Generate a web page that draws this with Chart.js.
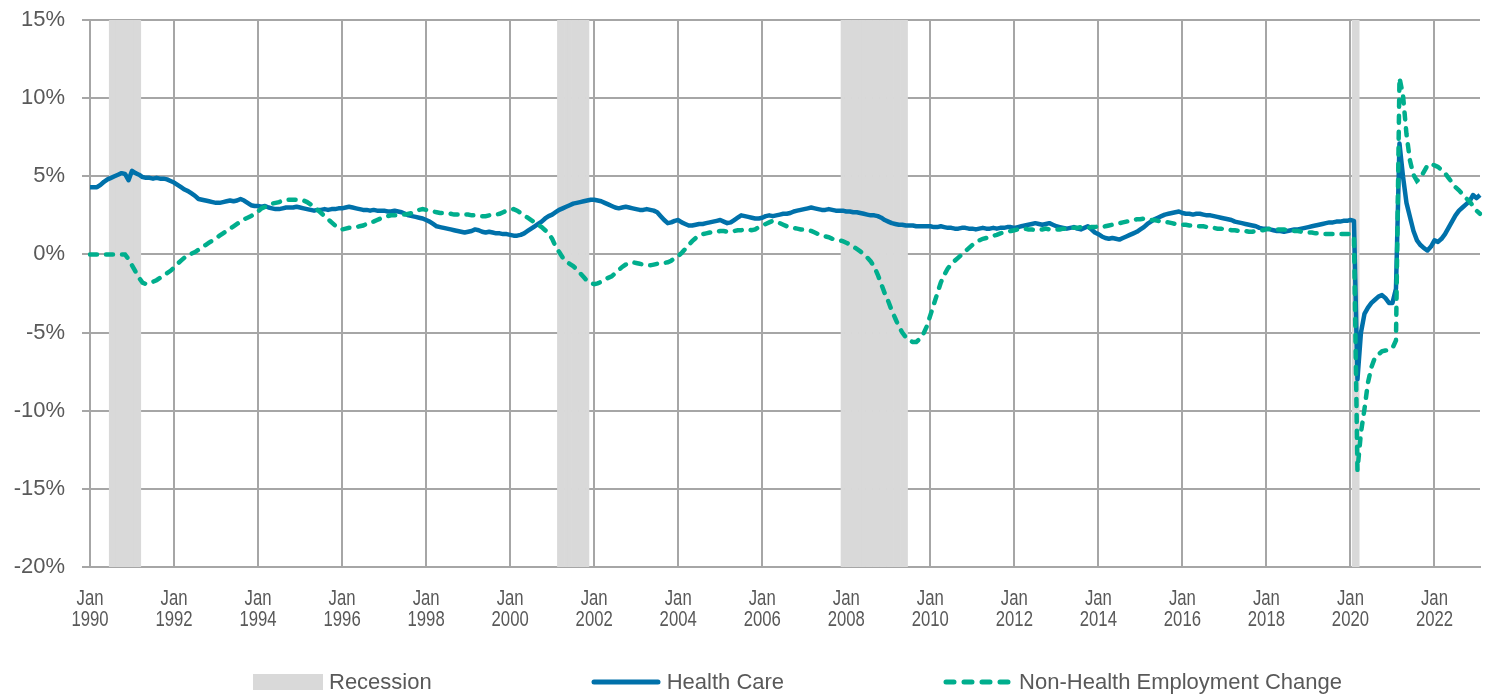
<!DOCTYPE html>
<html>
<head>
<meta charset="utf-8">
<script src="https://cdn.jsdelivr.net/npm/chart.js@4.4.1/dist/chart.umd.min.js"></script>
<style>
  html, body { margin: 0; padding: 0; background: #fff; }
  #wrap { position: relative; width: 1486px; height: 698px; overflow: hidden; }
  #legend {
    position: absolute; left: 253px; top: 670px; height: 24px;
    display: flex; align-items: center;
    font-family: "Liberation Sans", Arial, sans-serif; font-size: 22px; color: #595959;
  }
  .item { display: flex; align-items: center; margin-right: 159px; white-space: nowrap; }
  .item svg { margin-right: 6px; }
</style>
</head>
<body>
<div id="wrap">
  <canvas id="chart" width="1486" height="698"></canvas>
  <div id="legend"></div>
</div>
<script>
const monthNames = ["Jan","Feb","Mar","Apr","May","Jun","Jul","Aug","Sep","Oct","Nov","Dec"];
const firstYear = 1990;

// year-over-year % change, one row per year (Jan..Dec)
const healthCare = [
  4.3, 4.3, 4.3, 4.45, 4.65, 4.8, 4.9, 5.0, 5.1, 5.2, 5.15, 4.75,
  5.35, 5.2, 5.1, 4.95, 4.9, 4.9, 4.85, 4.9, 4.85, 4.85, 4.8, 4.7,
  4.6, 4.45, 4.3, 4.15, 4.05, 3.9, 3.75, 3.55, 3.5, 3.45, 3.4, 3.35,
  3.3, 3.3, 3.35, 3.4, 3.45, 3.4, 3.45, 3.55, 3.45, 3.3, 3.15, 3.1,
  3.1, 3.05, 3.1, 3.0, 2.95, 2.9, 2.9, 2.95, 3.0, 3.0, 3.0, 3.05,
  3.0, 2.95, 2.9, 2.85, 2.8, 2.85, 2.85, 2.9, 2.85, 2.9, 2.9, 2.95,
  2.95, 3.0, 3.05, 3.0, 2.95, 2.9, 2.85, 2.85, 2.8, 2.85, 2.8, 2.8,
  2.8, 2.75, 2.75, 2.8, 2.75, 2.7, 2.6, 2.5, 2.45, 2.4, 2.35, 2.3,
  2.2, 2.1, 1.95, 1.8, 1.75, 1.7, 1.65, 1.6, 1.55, 1.5, 1.45, 1.4,
  1.45, 1.5, 1.6, 1.55, 1.45, 1.4, 1.45, 1.4, 1.35, 1.35, 1.3, 1.3,
  1.25, 1.2, 1.2, 1.25, 1.35, 1.5, 1.65, 1.8, 1.95, 2.1, 2.3, 2.45,
  2.55, 2.7, 2.85, 2.95, 3.05, 3.15, 3.25, 3.3, 3.35, 3.4, 3.45, 3.5,
  3.5, 3.45, 3.4, 3.3, 3.2, 3.1, 3.0, 2.95, 3.0, 3.05, 3.0, 2.95,
  2.9, 2.85, 2.85, 2.9, 2.85, 2.8, 2.7, 2.45, 2.2, 2.0, 2.05, 2.15,
  2.2, 2.05, 1.95, 1.85, 1.85, 1.9, 1.95, 1.95, 2.0, 2.05, 2.1, 2.15,
  2.2, 2.1, 2.0, 2.05, 2.2, 2.35, 2.5, 2.45, 2.4, 2.35, 2.3, 2.3,
  2.35, 2.45, 2.5, 2.45, 2.5, 2.55, 2.6, 2.6, 2.65, 2.75, 2.8, 2.85,
  2.9, 2.95, 3.0, 2.95, 2.9, 2.85, 2.85, 2.9, 2.85, 2.8, 2.8, 2.8,
  2.75, 2.75, 2.7, 2.7, 2.65, 2.6, 2.55, 2.5, 2.5, 2.45, 2.35, 2.2,
  2.1, 2.0, 1.95, 1.9, 1.9, 1.85, 1.85, 1.85, 1.8, 1.8, 1.8, 1.8,
  1.8, 1.75, 1.75, 1.8, 1.75, 1.7, 1.7, 1.65, 1.65, 1.7, 1.7, 1.65,
  1.65, 1.6, 1.65, 1.7, 1.65, 1.65, 1.7, 1.65, 1.7, 1.7, 1.75, 1.75,
  1.7, 1.75, 1.8, 1.85, 1.9, 1.95, 2.0, 1.95, 1.9, 1.95, 2.0, 1.9,
  1.8, 1.75, 1.7, 1.65, 1.7, 1.75, 1.65, 1.6, 1.7, 1.8, 1.6, 1.4,
  1.3, 1.15, 1.05, 1.0, 1.05, 1.0, 0.95, 1.05, 1.15, 1.25, 1.35, 1.45,
  1.6, 1.75, 1.95, 2.1, 2.25, 2.35, 2.45, 2.55, 2.6, 2.65, 2.7, 2.75,
  2.65, 2.6, 2.6, 2.55, 2.6, 2.6, 2.55, 2.5, 2.5, 2.45, 2.4, 2.35,
  2.3, 2.25, 2.2, 2.1, 2.05, 2.0, 1.95, 1.9, 1.85, 1.8, 1.7, 1.65,
  1.65, 1.6, 1.55, 1.5, 1.5, 1.45, 1.5, 1.55, 1.6, 1.6, 1.65, 1.7,
  1.75, 1.8, 1.85, 1.9, 1.95, 2.0, 2.05, 2.05, 2.1, 2.1, 2.15, 2.15,
  2.2, 2.15, -8.0, -5.0, -3.8, -3.4, -3.1, -2.9, -2.7, -2.6, -2.8, -3.1,
  -3.1, -2.2, 7.1, 5.0, 3.3, 2.4, 1.5, 0.9, 0.6, 0.4, 0.25, 0.5,
  0.9, 0.8, 1.0, 1.3, 1.7, 2.1, 2.5, 2.8, 3.0, 3.2, 3.4, 3.8,
  3.6, 3.8
];

const nonHealth = [
  0, 0, 0, 0, 0, 0, 0, 0, 0, 0, 0, -0.3,
  -0.7, -1.1, -1.5, -1.8, -1.9, -1.85, -1.75, -1.65, -1.5, -1.35, -1.2, -1.05,
  -0.85, -0.6, -0.4, -0.2, 0.0, 0.05, 0.15, 0.3, 0.45, 0.6, 0.75, 0.9,
  1.05, 1.2, 1.35, 1.5, 1.65, 1.8, 1.95, 2.1, 2.25, 2.35, 2.45, 2.6,
  2.75, 2.95, 3.05, 3.15, 3.25, 3.3, 3.35, 3.45, 3.5, 3.5, 3.5, 3.5,
  3.5, 3.45, 3.35, 3.2, 3.0, 2.85, 2.65, 2.45, 2.25, 2.05, 1.85, 1.7,
  1.6, 1.65, 1.7, 1.7, 1.75, 1.8, 1.85, 1.95, 2.05, 2.1, 2.2, 2.3,
  2.4, 2.45, 2.5, 2.5, 2.5, 2.55, 2.55, 2.6, 2.65, 2.75, 2.85, 2.9,
  2.85, 2.8, 2.75, 2.7, 2.65, 2.65, 2.6, 2.6, 2.55, 2.55, 2.6, 2.55,
  2.55, 2.5, 2.5, 2.5, 2.45, 2.45, 2.5, 2.55, 2.55, 2.6, 2.7, 2.8,
  2.85, 2.9, 2.8, 2.65, 2.5, 2.35, 2.2, 2.05, 1.9, 1.75, 1.55, 1.35,
  1.0, 0.5, 0.15, -0.2, -0.45, -0.6, -0.75, -0.95, -1.2, -1.45, -1.7, -1.85,
  -1.9, -1.85, -1.75, -1.6, -1.5, -1.4, -1.2, -1.0, -0.8, -0.65, -0.55, -0.5,
  -0.55, -0.6, -0.65, -0.7, -0.7, -0.65, -0.6, -0.6, -0.55, -0.5, -0.4, -0.25,
  -0.1, 0.1, 0.35, 0.6, 0.85, 1.05, 1.2, 1.3, 1.35, 1.4, 1.45, 1.45,
  1.5, 1.5, 1.45, 1.5, 1.5, 1.55, 1.55, 1.6, 1.6, 1.55, 1.6, 1.75,
  1.85, 1.95, 2.05, 2.15, 2.1, 2.0, 1.9, 1.8, 1.75, 1.7, 1.65, 1.6,
  1.6, 1.55, 1.5, 1.4, 1.3, 1.25, 1.15, 1.1, 1.0, 0.95, 0.9, 0.85,
  0.75, 0.65, 0.5, 0.35, 0.2, 0.0, -0.2, -0.45, -0.8, -1.3, -1.9, -2.5,
  -3.0, -3.6, -4.1, -4.6, -5.0, -5.3, -5.5, -5.6, -5.6, -5.4, -5.1, -4.6,
  -3.9, -3.2, -2.5, -1.8, -1.3, -0.9, -0.6, -0.4, -0.2, 0.0, 0.2, 0.4,
  0.6, 0.75, 0.9, 1.0, 1.05, 1.1, 1.2, 1.25, 1.35, 1.4, 1.45, 1.5,
  1.55, 1.6, 1.65, 1.65, 1.6, 1.6, 1.55, 1.6, 1.6, 1.65, 1.6, 1.6,
  1.6, 1.6, 1.65, 1.65, 1.7, 1.7, 1.7, 1.75, 1.75, 1.7, 1.75, 1.75,
  1.8, 1.75, 1.8, 1.85, 1.9, 1.95, 2.0, 2.05, 2.1, 2.15, 2.2, 2.25,
  2.25, 2.3, 2.25, 2.2, 2.2, 2.15, 2.1, 2.1, 2.05, 2.0, 1.95, 1.95,
  1.9, 1.9, 1.85, 1.85, 1.8, 1.8, 1.8, 1.75, 1.7, 1.7, 1.65, 1.65,
  1.6, 1.6, 1.55, 1.55, 1.5, 1.5, 1.5, 1.45, 1.45, 1.5, 1.55, 1.55,
  1.6, 1.65, 1.65, 1.6, 1.6, 1.6, 1.55, 1.55, 1.5, 1.5, 1.45, 1.45,
  1.4, 1.4, 1.35, 1.35, 1.3, 1.3, 1.3, 1.3, 1.3, 1.3, 1.3, 1.3,
  1.3, 1.2, -13.8, -11.4, -9.9, -8.2, -7.2, -6.6, -6.4, -6.2, -6.15, -6.1,
  -6.0, -5.5, 11.3, 10.2, 7.7, 6.0, 5.1, 4.7, 4.9, 5.3, 5.7, 5.8,
  5.7, 5.6, 5.4, 5.2, 4.9, 4.6, 4.3, 4.1, 3.85, 3.6, 3.4, 3.1,
  2.8, 2.6
];

const recessions = [
  ["Jul 1990", "Mar 1991"],
  ["Mar 2001", "Nov 2001"],
  ["Dec 2007", "Jun 2009"],
  ["Feb 2020", "Mar 2020"]
];

const yTicks = { min: -20, max: 15, step: 5 };

const months = healthCare.map((_, i) => monthNames[i % 12] + " " + (firstYear + Math.floor(i / 12)));

const recessionBars = months.map((m, i) => {
  const inside = recessions.some(([a, b]) => i >= months.indexOf(a) && i <= months.indexOf(b));
  return inside ? [yTicks.min, yTicks.max] : null;
});

const gridGray = "#a6a6a6";
const textGray = "#595959";
const blue = "#0071aa";
const green = "#00ae8d";
const recessionGray = "#d9d9d9";

// x tick labels are drawn narrow, like the condensed face in the original
const narrowTicks = {
  id: "narrowTicks",
  afterDraw(chart) {
    const s = chart.scales.x, ctx = chart.ctx;
    ctx.save();
    ctx.fillStyle = textGray;
    ctx.font = "22px 'Liberation Sans', Arial, sans-serif";
    ctx.textAlign = "center";
    ctx.textBaseline = "middle";
    s.ticks.forEach((t, i) => {
      const x = s.getPixelForTick(i);
      const [mon, yr] = s.getLabelForValue(t.value).split(" ");
      [[mon, 599], [yr, 620]].forEach(([txt, y]) => {
        ctx.save();
        ctx.translate(x, y);
        ctx.scale(0.76, 1);
        ctx.fillText(txt, 0, 0);
        ctx.restore();
      });
    });
    ctx.restore();
  }
};

new Chart(document.getElementById("chart"), {
  data: {
    labels: months,
    datasets: [
      {
        type: "line", label: "Non-Health Employment Change", data: nonHealth,
        borderColor: green, borderWidth: 4.5, borderDash: [7, 9], borderCapStyle: "round",
        pointRadius: 0, tension: 0, order: 0
      },
      {
        type: "line", label: "Health Care", data: healthCare,
        borderColor: blue, borderWidth: 4.5, borderJoinStyle: "round",
        pointRadius: 0, tension: 0, order: 1
      },
      {
        type: "bar", label: "Recession", data: recessionBars,
        backgroundColor: recessionGray, borderWidth: 0,
        barPercentage: 1, categoryPercentage: 1, order: 2
      }
    ]
  },
  options: {
    responsive: false,
    animation: false,
    events: [],
    layout: { padding: { top: 20, right: 6, left: 0, bottom: 0 } },
    plugins: { legend: { display: false }, tooltip: { enabled: false } },
    scales: {
      x: {
        type: "category",
        offset: false,
        grid: { color: gridGray, lineWidth: 2, drawTicks: false, offset: false },
        border: { display: true, color: gridGray, width: 2 },
        afterBuildTicks: s => { s.ticks = s.ticks.filter(t => t.value % 24 === 0); },
        afterFit: s => { s.height = 131; },
        ticks: { display: false, autoSkip: false, maxRotation: 0 }
      },
      y: {
        min: yTicks.min, max: yTicks.max,
        grid: { color: gridGray, lineWidth: 2, tickLength: 8 },
        border: { display: true, color: gridGray, width: 2 },
        afterFit: s => { s.width = 90; s.paddingTop = 0; s.paddingBottom = 0; },
        ticks: {
          stepSize: yTicks.step, padding: 17, color: textGray,
          font: { family: "'Liberation Sans', Arial, sans-serif", size: 22 },
          callback: v => v + "%"
        }
      }
    }
  },
  plugins: [narrowTicks]
});

// legend below the chart
const legendItems = [
  { label: "Recession", svg: `<rect x="0" y="2" width="70" height="16" fill="${recessionGray}"/>` },
  { label: "Health Care", svg: `<line x1="3" y1="10" x2="67" y2="10" stroke="${blue}" stroke-width="5" stroke-linecap="round"/>` },
  { label: "Non-Health Employment Change", svg: `<line x1="3" y1="10" x2="67" y2="10" stroke="${green}" stroke-width="5" stroke-linecap="round" stroke-dasharray="8 10"/>` }
];
const legendEl = document.getElementById("legend");
legendItems.forEach(it => {
  const d = document.createElement("div");
  d.className = "item";
  d.innerHTML = `<svg width="70" height="20">${it.svg}</svg><span>${it.label}</span>`;
  legendEl.appendChild(d);
});
</script>
</body>
</html>
